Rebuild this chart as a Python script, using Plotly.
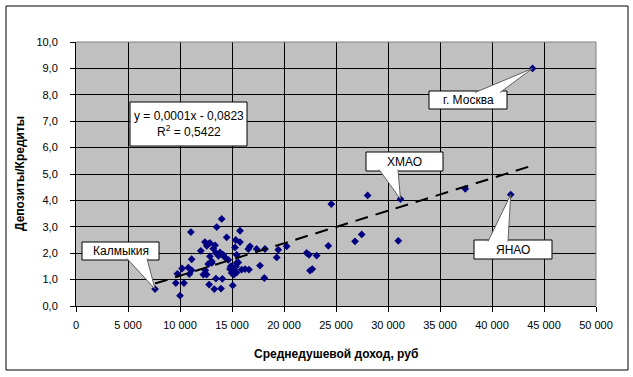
import plotly.graph_objects as go

# ---- data: average per-capita income (rub) vs deposits/credits ratio ----
labeled_names = ["Калмыкия", "ХМАО", "ЯНАО", "г. Москва"]
labeled_income = [7600, 31200, 41800, 43900]
labeled_ratio = [0.64, 4.05, 4.22, 9.0]

other_income = [
    9600, 10000, 10380, 10200, 9750, 11050, 10800, 10900, 11120, 11120,
    12000, 12250, 12400, 12570, 12880, 12720, 12800, 12880, 13050, 13200,
    13370, 13460, 13530, 13300, 13460, 13850, 13940, 14010, 14070, 14160,
    14490, 14640, 14810, 14970, 15070, 15190, 15360, 15290, 15450, 15450,
    15450, 15610, 15770, 15770, 15930, 16250, 16570, 16630, 16730, 17370,
    17690, 18110, 18170, 19300, 19450, 20260, 22180, 22400, 22500, 22720,
    23140, 24260, 24550, 26830, 27470, 28040, 30990, 37430,
    12720, 13700, 14300, 14870, 15130, 15380, 12430, 12560, 13050, 14970,
]
other_ratio = [
    0.87, 0.39, 0.87, 1.42, 1.22, 2.80, 1.45, 1.21, 1.35, 1.77,
    2.09, 1.19, 2.42, 2.28, 2.39, 1.59, 0.81, 1.88, 1.69, 2.17,
    2.30, 2.01, 2.99, 0.64, 1.04, 2.03, 0.66, 3.30, 1.03, 1.94,
    2.60, 1.75, 1.40, 1.25, 0.78, 1.19, 2.50, 2.22, 1.63, 1.94,
    1.27, 1.65, 2.85, 2.42, 1.38, 1.40, 2.16, 1.38, 2.26, 2.16,
    1.53, 1.06, 2.16, 1.84, 2.13, 2.26, 2.01, 1.94, 1.34, 1.40,
    1.91, 2.28, 3.86, 2.45, 2.71, 4.19, 2.47, 4.44,
    2.35, 1.90, 1.85, 1.50, 1.38, 1.50, 1.35, 1.19, 1.63, 1.50,
]

# trend line
trend_x = [7600, 43900]
trend_y = [0.85, 5.32]
equation_text = "y = 0,0001x - 0,0823<br>R<sup>2</sup> = 0,5422"

x_title = "Среднедушевой доход, руб"
y_title = "Депозиты/Кредиты"

# ---- geometry ----
W_FIG, H_FIG = 633, 377
L, R, T, B = 76, 37, 42, 71
PW, PH = W_FIG - L - R, H_FIG - T - B
XMAX, YMAX = 50000, 10


def dx(px):
    return (px - L) / PW * XMAX


def dy(py):
    return (H_FIG - B - py) / PH * YMAX


def paper_x(px):
    return (px - L) / PW


def paper_y(py):
    return (H_FIG - B - py) / PH


FONT = "Liberation Sans, Arial, sans-serif"

fig = go.Figure()
fig.add_trace(go.Scatter(
    x=other_income + labeled_income,
    y=other_ratio + labeled_ratio,
    mode="markers",
    marker=dict(symbol="diamond", size=6, color="#000080"),
    showlegend=False,
))
fig.add_trace(go.Scatter(
    x=trend_x, y=trend_y, mode="lines",
    line=dict(color="black", width=2, dash="13px,8px"),
    showlegend=False,
))

shapes = []
annotations = []

# callouts: box in pixels (x0, y0, x1, y1), wedge base x-pixels, side
callout_layout = {
    "Калмыкия": dict(box=(82, 242, 159, 260), base=(127, 147), side="bottom"),
    "г. Москва": dict(box=(429, 91, 507, 109), base=(475, 500), side="top"),
    "ХМАО": dict(box=(366, 152, 443, 171), base=(379, 398), side="bottom"),
    "ЯНАО": dict(box=(474, 240, 552, 259), base=(488, 508), side="top"),
}

for name, xi, yi in zip(labeled_names, labeled_income, labeled_ratio):
    c = callout_layout[name]
    x0, y0, x1, y1 = c["box"]
    shapes.append(dict(type="rect", xref="x", yref="y",
                       x0=dx(x0), x1=dx(x1), y0=dy(y0), y1=dy(y1),
                       fillcolor="white", line=dict(color="black", width=1),
                       layer="above"))
    by = y1 - 1.5 if c["side"] == "bottom" else y0 + 1.5
    b0, b1 = c["base"]
    path = f"M {dx(b0)},{dy(by)} L {xi},{yi} L {dx(b1)},{dy(by)}"
    shapes.append(dict(type="path", xref="x", yref="y", path=path,
                       fillcolor="white", line=dict(color="#606060", width=1),
                       layer="above"))
    annotations.append(dict(x=dx((x0 + x1) / 2), y=dy((y0 + y1) / 2),
                            xref="x", yref="y", text=name, showarrow=False,
                            font=dict(family=FONT, size=12, color="black"),
                            xanchor="center", yanchor="middle"))

# equation box
eq_box = (130, 102, 247, 146)
shapes.append(dict(type="rect", xref="x", yref="y",
                   x0=dx(eq_box[0]), x1=dx(eq_box[2]),
                   y0=dy(eq_box[1]), y1=dy(eq_box[3]),
                   fillcolor="white", line=dict(color="black", width=1),
                   layer="above"))
annotations.append(dict(x=dx((eq_box[0] + eq_box[2]) / 2),
                        y=dy((eq_box[1] + eq_box[3]) / 2),
                        xref="x", yref="y", text=equation_text, showarrow=False,
                        align="center",
                        font=dict(family=FONT, size=12, color="black"),
                        xanchor="center", yanchor="middle"))

# plot-area top/right border (gray)
shapes.append(dict(type="line", xref="paper", yref="paper", x0=0, x1=1, y0=1, y1=1,
                   line=dict(color="#808080", width=1), layer="above"))
shapes.append(dict(type="line", xref="paper", yref="paper", x0=1, x1=1, y0=0, y1=1,
                   line=dict(color="#808080", width=1), layer="above"))
# outer chart frame
shapes.append(dict(type="rect", xref="paper", yref="paper",
                   x0=paper_x(6), x1=paper_x(628), y0=paper_y(370), y1=paper_y(6),
                   line=dict(color="black", width=1), fillcolor="rgba(0,0,0,0)",
                   layer="above"))

# axis titles
annotations.append(dict(x=0.5, y=paper_y(354), xref="paper", yref="paper",
                        text=f"<b>{x_title}</b>", showarrow=False,
                        font=dict(family=FONT, size=12, color="black"),
                        xanchor="center", yanchor="middle"))
annotations.append(dict(x=paper_x(20), y=paper_y(174), xref="paper", yref="paper",
                        text=f"<b>{y_title}</b>", showarrow=False, textangle=-90,
                        font=dict(family=FONT, size=12, color="black"),
                        xanchor="center", yanchor="middle"))

fig.update_layout(
    width=W_FIG, height=H_FIG,
    margin=dict(l=L, r=R, t=T, b=B, pad=0),
    paper_bgcolor="white", plot_bgcolor="#C0C0C0",
    separators=", ",
    shapes=shapes, annotations=annotations,
    font=dict(family=FONT, size=11, color="black"),
    xaxis=dict(range=[0, XMAX], dtick=5000, tick0=0, tickformat=",.0f",
               showgrid=True, gridcolor="black", gridwidth=1, zeroline=False,
               showline=True, linecolor="black", linewidth=1,
               ticks="outside", ticklen=5, tickcolor="black",
               ticklabelstandoff=4, fixedrange=True),
    yaxis=dict(range=[0, YMAX], dtick=1, tick0=0, tickformat=".1f",
               showgrid=True, gridcolor="black", gridwidth=1, zeroline=False,
               showline=True, linecolor="black", linewidth=1,
               ticks="outside", ticklen=5, tickcolor="black",
               ticklabelstandoff=10, fixedrange=True),
)

fig.write_html(
    "out.html",
    config={"displayModeBar": False},
    post_script="document.body.style.margin='0';document.body.style.overflow='hidden';",
)
